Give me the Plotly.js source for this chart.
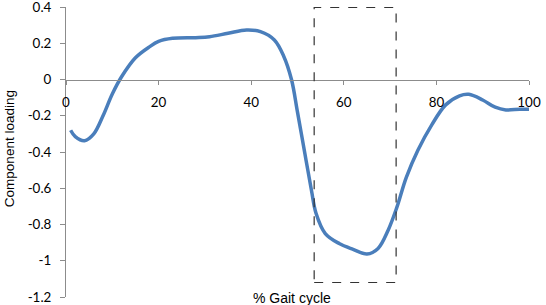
<!DOCTYPE html>
<html>
<head>
<meta charset="utf-8">
<script src="https://cdn.plot.ly/plotly-3.0.1.min.js"></script>
<style>html,body{margin:0;padding:0;background:#fff;}#chart{width:546px;height:305px;}</style>
</head>
<body>
<div id="chart"></div>
<script>
const gaitPct = [1, 2, 4, 6, 8, 10, 12, 15, 18, 20, 23, 28, 31, 35, 39, 42, 45, 47, 48.7, 50, 51.6, 53, 54, 56, 59, 62, 65, 67.4, 69.6, 71.4, 73.5, 76, 79, 82, 85, 87, 90, 92.7, 95, 98, 100];
const loading = [-0.28, -0.315, -0.338, -0.3, -0.2, -0.08, 0.015, 0.12, 0.18, 0.21, 0.227, 0.231, 0.236, 0.255, 0.273, 0.264, 0.218, 0.13, 0, -0.18, -0.41, -0.61, -0.738, -0.85, -0.905, -0.937, -0.963, -0.932, -0.83, -0.71, -0.54, -0.39, -0.25, -0.14, -0.09, -0.082, -0.113, -0.153, -0.168, -0.164, -0.164];
const xTickVals = [0, 20, 40, 60, 80, 100];
const xTickText = ["0", "20", "40", "60", "80", "100"];
const yTickVals = [0.4, 0.2, 0, -0.2, -0.4, -0.6, -0.8, -1, -1.2];
const yTickText = ["0.4", "0.2", "0", "-0.2", "-0.4", "-0.6", "-0.8", "-1", "-1.2"];
const xRange = [0, 100];
const yRange = [-1.2, 0.4];
const highlightX = [53.6, 71.3];
const highlightY = [-1.12, 0.398];

const axisGrey = '#8c8c8c';
const zeroPos = (0 - yRange[0]) / (yRange[1] - yRange[0]);

const trace = {
  x: gaitPct, y: loading, type: 'scatter', mode: 'lines',
  line: {color: '#4a7ebb', width: 3.5, shape: 'spline', smoothing: 1},
  hoverinfo: 'skip'
};

const layout = {
  width: 546, height: 305,
  margin: {l: 66, r: 17, t: 7, b: 8},
  paper_bgcolor: '#ffffff', plot_bgcolor: '#ffffff',
  showlegend: false,
  xaxis: {
    range: xRange, anchor: 'free', position: zeroPos,
    showline: true, linecolor: axisGrey, linewidth: 1,
    ticks: 'outside', ticklen: 4, tickcolor: axisGrey, tickwidth: 1,
    tickvals: xTickVals, ticktext: xTickText,
    showgrid: false, zeroline: false,
    ticklabelstandoff: 6, ticklabeloverflow: 'allow',
    tickfont: {family: 'Lato, sans-serif', size: 13.4, color: '#000'}
  },
  yaxis: {
    range: yRange,
    showline: true, linecolor: axisGrey, linewidth: 1,
    ticks: 'outside', ticklen: 5, tickcolor: axisGrey, tickwidth: 1,
    tickvals: yTickVals, ticktext: yTickText,
    showgrid: false, zeroline: false,
    ticklabelstandoff: 6, ticklabeloverflow: 'allow',
    tickfont: {family: 'Lato, sans-serif', size: 13.4, color: '#000'}
  },
  shapes: [{
    type: 'rect', xref: 'x', yref: 'y',
    x0: highlightX[0], x1: highlightX[1], y0: highlightY[0], y1: highlightY[1],
    line: {color: '#333', width: 1.2, dash: 'dash'}, fillcolor: 'rgba(0,0,0,0)'
  }],
  annotations: [
    {text: 'Component loading', xref: 'paper', yref: 'paper', x: -0.123, y: 0.51,
     xanchor: 'center', yanchor: 'middle', textangle: -90, showarrow: false,
     font: {family: 'Liberation Sans, Arial, sans-serif', size: 13.5, color: '#000'}},
    {text: '% Gait cycle', xref: 'paper', yref: 'paper', x: 0.488, y: -0.002,
     xanchor: 'center', yanchor: 'middle', showarrow: false,
     font: {family: 'Liberation Sans, Arial, sans-serif', size: 14, color: '#000'}}
  ]
};

Plotly.newPlot('chart', [trace], layout, {staticPlot: true, displayModeBar: false});
</script>
</body>
</html>
